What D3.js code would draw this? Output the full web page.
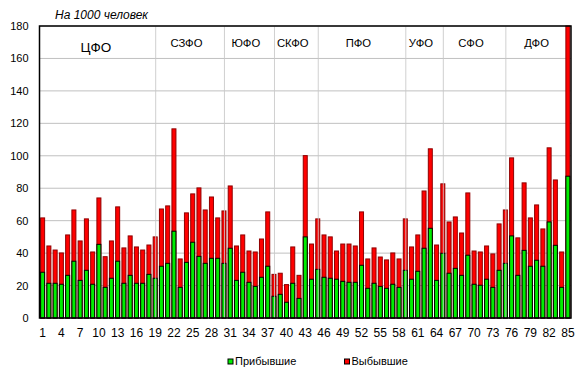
<!DOCTYPE html>
<html>
<head>
<meta charset="utf-8">
<script src="https://cdn.jsdelivr.net/npm/d3@7"></script>
<style>
  html, body { margin: 0; padding: 0; background: #fff; }
  svg { display: block; font-family: Arial, "Liberation Sans", sans-serif; }
</style>
</head>
<body>
<div id="chart"></div>
<script>
// Regions 1..85, per 1000 people
const categories = d3.range(1, 86);

const arrivals = [
  28.2, 21.4, 21.4, 20.8, 26.3, 35.0, 23.2, 29.4, 20.8, 45.4,
  18.9, 24.5, 35.0, 21.4, 26.3, 21.4, 21.4, 26.9, 24.5, 31.9,
  33.7, 53.5, 18.9, 34.3, 46.7, 38.0, 33.7, 36.8, 36.8, 33.7,
  43.0, 23.2, 28.2, 22.0, 19.5, 25.1, 31.9, 13.4, 14.6, 9.7,
  21.4, 12.1, 50.0, 23.9, 30.0, 25.1, 24.5, 23.9, 22.6, 22.0,
  22.0, 32.5, 18.3, 21.4, 19.5, 18.3, 20.8, 18.9, 29.4, 23.9,
  28.8, 43.0, 55.3, 23.2, 39.9, 27.6, 30.6, 26.3, 38.7, 20.8,
  20.2, 23.9, 18.9, 29.4, 33.7, 50.6, 26.3, 41.7, 31.9, 35.6,
  31.9, 59.2, 44.8, 18.9, 87.4
];

const departures = [
  61.7, 44.4, 41.9, 40.1, 51.2, 66.6, 47.5, 61.1, 40.7, 74.0,
  37.8, 47.5, 68.5, 43.2, 50.6, 43.8, 41.9, 45.0, 50.0, 67.2,
  69.1, 116.6, 36.4, 64.8, 76.5, 80.2, 66.6, 74.6, 61.7, 66.0,
  81.4, 44.4, 51.2, 41.3, 40.7, 48.7, 65.4, 26.9, 27.6, 20.6,
  43.8, 26.3, 100.1, 45.6, 61.1, 51.2, 50.0, 41.3, 45.6, 45.6,
  44.4, 65.4, 36.4, 43.2, 37.6, 35.8, 40.1, 36.4, 61.1, 43.8,
  51.2, 78.3, 104.3, 45.0, 82.7, 59.2, 62.3, 52.4, 77.1, 41.3,
  40.7, 44.4, 39.5, 58.0, 66.6, 98.7, 49.4, 83.3, 61.7, 69.7,
  54.9, 104.9, 85.1, 40.7, 180
];

// Federal districts and how many regions each one has
const districtNames = ['ЦФО', 'СЗФО', 'ЮФО', 'СКФО', 'ПФО', 'УФО', 'СФО', 'ДФО'];
const districtSizes = [18, 11, 8, 7, 14, 6, 10, 11];

const yTicks = d3.range(0, 181, 20);
const xTicks = categories.filter((c) => (c - 1) % 3 === 0);

const seriesNames = ['Прибывшие', 'Выбывшие'];
const unitLabel = 'На 1000 человек';

const width = 583;
const height = 376;
const margin = { top: 26, right: 12, bottom: 58, left: 39.5 };
const innerWidth = width - margin.left - margin.right;
const innerHeight = height - margin.top - margin.bottom;

const GREEN = '#00ee00';
const RED = '#ff0000';

const svg = d3.select('#chart')
  .append('svg')
  .attr('width', width)
  .attr('height', height);

const g = svg.append('g')
  .attr('transform', `translate(${margin.left},${margin.top})`);

const x = d3.scaleBand()
  .domain(categories)
  .range([0, innerWidth])
  .paddingInner(0.2)
  .paddingOuter(0.1);

const y = d3.scaleLinear()
  .domain([0, 180])
  .range([innerHeight, 0]);

// horizontal gridlines (behind bars)
g.append('g')
  .selectAll('line')
  .data(yTicks)
  .join('line')
  .attr('x1', 0)
  .attr('x2', innerWidth)
  .attr('y1', (d) => y(d))
  .attr('y2', (d) => y(d))
  .attr('stroke', '#c0c0c0')
  .attr('stroke-width', 1);

// bars: departures behind, arrivals in front
const bw = x.bandwidth();
g.append('g')
  .selectAll('rect')
  .data(categories)
  .join('rect')
  .attr('x', (c) => x(c) + 0.5)
  .attr('width', bw - 1)
  .attr('y', (c, i) => y(Math.min(departures[i], 180)))
  .attr('height', (c, i) => innerHeight - y(Math.min(departures[i], 180)))
  .attr('fill', RED)
  .attr('stroke', '#900000')
  .attr('stroke-width', 1);

g.append('g')
  .selectAll('rect')
  .data(categories)
  .join('rect')
  .attr('x', (c) => x(c) + 0.5)
  .attr('width', bw - 1)
  .attr('y', (c, i) => y(arrivals[i]))
  .attr('height', (c, i) => innerHeight - y(arrivals[i]))
  .attr('fill', GREEN)
  .attr('stroke', '#000')
  .attr('stroke-width', 1);

// district separators and labels
let start = 1;
const districts = districtNames.map((name, i) => {
  const d = { name, first: start, last: start + districtSizes[i] - 1 };
  start += districtSizes[i];
  return d;
});

g.append('g')
  .selectAll('line')
  .data(districts.slice(1))
  .join('line')
  .attr('x1', (d) => x(d.first) + bw / 2 + 0.5)
  .attr('x2', (d) => x(d.first) + bw / 2 + 0.5)
  .attr('y1', 0)
  .attr('y2', innerHeight)
  .attr('stroke', '#c8c8c8')
  .attr('stroke-opacity', 0.85)
  .attr('stroke-width', 1);

g.append('g')
  .selectAll('text')
  .data(districts)
  .join('text')
  .attr('x', (d) => (x(d.first) + x(d.last) + bw) / 2)
  .attr('y', (d, i) => (i === 0 ? 25.5 : 21))
  .attr('text-anchor', 'middle')
  .attr('font-size', (d, i) => (i === 0 ? '13.5px' : '11.3px'))
  .attr('fill', '#000')
  .text((d) => d.name);

// plot frame
g.append('rect')
  .attr('width', innerWidth)
  .attr('height', innerHeight)
  .attr('fill', 'none')
  .attr('stroke', '#000')
  .attr('stroke-width', 1.5);

// axes
const yAxis = g.append('g')
  .call(d3.axisLeft(y).tickValues(yTicks).tickSize(0).tickPadding(11));
yAxis.select('.domain').remove();
yAxis.selectAll('text')
  .attr('font-size', '11px')
  .attr('font-family', null)
  .attr('fill', '#000');

const xAxis = g.append('g')
  .attr('transform', `translate(0,${innerHeight})`)
  .call(d3.axisBottom(x).tickValues(xTicks).tickSize(0).tickPadding(10));
xAxis.select('.domain').remove();
xAxis.selectAll('text')
  .attr('font-size', '12px')
  .attr('font-family', null)
  .attr('fill', '#000');

// unit caption
svg.append('text')
  .attr('x', 55)
  .attr('y', 19)
  .attr('font-size', '12px')
  .attr('font-style', 'italic')
  .attr('fill', '#000')
  .text(unitLabel);

// legend
const legend = svg.append('g')
  .attr('transform', 'translate(227.5,365)');

const legendItems = legend.selectAll('g')
  .data(seriesNames)
  .join('g')
  .attr('transform', (d, i) => `translate(${i * 116.5},0)`);

legendItems.append('rect')
  .attr('x', 0.5)
  .attr('y', -6)
  .attr('width', 5)
  .attr('height', 5)
  .attr('fill', (d, i) => (i === 0 ? GREEN : RED))
  .attr('stroke', '#000')
  .attr('stroke-width', 1);

legendItems.append('text')
  .attr('x', 7.5)
  .attr('y', 0)
  .attr('font-size', '11px')
  .attr('fill', '#000')
  .text((d) => d);
</script>
</body>
</html>
